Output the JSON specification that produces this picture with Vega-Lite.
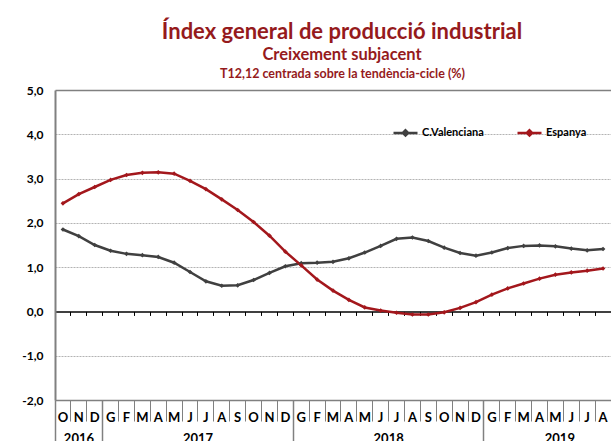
{
  "$schema": "https://vega.github.io/schema/vega-lite/v6.json",
  "width": 556,
  "height": 310,
  "autosize": {"type": "none"},
  "padding": {"left": 55, "top": 90, "right": 0, "bottom": 41},
  "background": "white",
  "title": {
    "text": "Índex general de producció industrial",
    "subtitle": "Creixement subjacent",
    "anchor": "middle", "frame": "group", "dx": 9, "offset": 3,
    "font": "Lato", "fontSize": 22, "fontWeight": "bold", "color": "#951a1c",
    "subtitleFont": "Lato", "subtitleFontSize": 16.5, "subtitleFontWeight": "bold", "subtitleColor": "#951a1c", "subtitlePadding": 3
  },
  "config": {"view": {"stroke": null}, "font": "Lato"},
  "data": {"values": [
    {"mes": "2016-10", "serie": "C.Valenciana", "valor": 1.85}, {"mes": "2016-11", "serie": "C.Valenciana", "valor": 1.70},
    {"mes": "2016-12", "serie": "C.Valenciana", "valor": 1.50}, {"mes": "2017-01", "serie": "C.Valenciana", "valor": 1.37},
    {"mes": "2017-02", "serie": "C.Valenciana", "valor": 1.30}, {"mes": "2017-03", "serie": "C.Valenciana", "valor": 1.27},
    {"mes": "2017-04", "serie": "C.Valenciana", "valor": 1.23}, {"mes": "2017-05", "serie": "C.Valenciana", "valor": 1.10},
    {"mes": "2017-06", "serie": "C.Valenciana", "valor": 0.89}, {"mes": "2017-07", "serie": "C.Valenciana", "valor": 0.68},
    {"mes": "2017-08", "serie": "C.Valenciana", "valor": 0.58}, {"mes": "2017-09", "serie": "C.Valenciana", "valor": 0.59},
    {"mes": "2017-10", "serie": "C.Valenciana", "valor": 0.71}, {"mes": "2017-11", "serie": "C.Valenciana", "valor": 0.87},
    {"mes": "2017-12", "serie": "C.Valenciana", "valor": 1.02}, {"mes": "2018-01", "serie": "C.Valenciana", "valor": 1.09},
    {"mes": "2018-02", "serie": "C.Valenciana", "valor": 1.10}, {"mes": "2018-03", "serie": "C.Valenciana", "valor": 1.12},
    {"mes": "2018-04", "serie": "C.Valenciana", "valor": 1.20}, {"mes": "2018-05", "serie": "C.Valenciana", "valor": 1.33},
    {"mes": "2018-06", "serie": "C.Valenciana", "valor": 1.48}, {"mes": "2018-07", "serie": "C.Valenciana", "valor": 1.64},
    {"mes": "2018-08", "serie": "C.Valenciana", "valor": 1.67}, {"mes": "2018-09", "serie": "C.Valenciana", "valor": 1.59},
    {"mes": "2018-10", "serie": "C.Valenciana", "valor": 1.44}, {"mes": "2018-11", "serie": "C.Valenciana", "valor": 1.32},
    {"mes": "2018-12", "serie": "C.Valenciana", "valor": 1.26}, {"mes": "2019-01", "serie": "C.Valenciana", "valor": 1.33},
    {"mes": "2019-02", "serie": "C.Valenciana", "valor": 1.43}, {"mes": "2019-03", "serie": "C.Valenciana", "valor": 1.48},
    {"mes": "2019-04", "serie": "C.Valenciana", "valor": 1.49}, {"mes": "2019-05", "serie": "C.Valenciana", "valor": 1.47},
    {"mes": "2019-06", "serie": "C.Valenciana", "valor": 1.42}, {"mes": "2019-07", "serie": "C.Valenciana", "valor": 1.38},
    {"mes": "2019-08", "serie": "C.Valenciana", "valor": 1.41},
    {"mes": "2016-10", "serie": "Espanya", "valor": 2.44}, {"mes": "2016-11", "serie": "Espanya", "valor": 2.65},
    {"mes": "2016-12", "serie": "Espanya", "valor": 2.81}, {"mes": "2017-01", "serie": "Espanya", "valor": 2.97},
    {"mes": "2017-02", "serie": "Espanya", "valor": 3.08}, {"mes": "2017-03", "serie": "Espanya", "valor": 3.13},
    {"mes": "2017-04", "serie": "Espanya", "valor": 3.14}, {"mes": "2017-05", "serie": "Espanya", "valor": 3.11},
    {"mes": "2017-06", "serie": "Espanya", "valor": 2.95}, {"mes": "2017-07", "serie": "Espanya", "valor": 2.76},
    {"mes": "2017-08", "serie": "Espanya", "valor": 2.53}, {"mes": "2017-09", "serie": "Espanya", "valor": 2.29},
    {"mes": "2017-10", "serie": "Espanya", "valor": 2.02}, {"mes": "2017-11", "serie": "Espanya", "valor": 1.71},
    {"mes": "2017-12", "serie": "Espanya", "valor": 1.35}, {"mes": "2018-01", "serie": "Espanya", "valor": 1.04},
    {"mes": "2018-02", "serie": "Espanya", "valor": 0.72}, {"mes": "2018-03", "serie": "Espanya", "valor": 0.47},
    {"mes": "2018-04", "serie": "Espanya", "valor": 0.26}, {"mes": "2018-05", "serie": "Espanya", "valor": 0.09},
    {"mes": "2018-06", "serie": "Espanya", "valor": 0.02}, {"mes": "2018-07", "serie": "Espanya", "valor": -0.03},
    {"mes": "2018-08", "serie": "Espanya", "valor": -0.07}, {"mes": "2018-09", "serie": "Espanya", "valor": -0.07},
    {"mes": "2018-10", "serie": "Espanya", "valor": -0.02}, {"mes": "2018-11", "serie": "Espanya", "valor": 0.08},
    {"mes": "2018-12", "serie": "Espanya", "valor": 0.21}, {"mes": "2019-01", "serie": "Espanya", "valor": 0.38},
    {"mes": "2019-02", "serie": "Espanya", "valor": 0.52}, {"mes": "2019-03", "serie": "Espanya", "valor": 0.63},
    {"mes": "2019-04", "serie": "Espanya", "valor": 0.74}, {"mes": "2019-05", "serie": "Espanya", "valor": 0.83},
    {"mes": "2019-06", "serie": "Espanya", "valor": 0.88}, {"mes": "2019-07", "serie": "Espanya", "valor": 0.92},
    {"mes": "2019-08", "serie": "Espanya", "valor": 0.97}
  ]},
  "encoding": {
    "y": {
      "field": "valor", "type": "quantitative",
      "scale": {"domain": [-2, 5], "nice": false, "zero": false},
      "axis": {
        "values": [-2, -1, 0, 1, 2, 3, 4, 5],
        "title": "T12,12 centrada sobre la tendència-cicle (%)",
        "titleAngle": 0, "titleX": 287, "titleY": -13, "titleAlign": "center", "titleBaseline": "alphabetic",
        "titleFont": "Lato", "titleFontSize": 12.5, "titleFontWeight": "bold", "titleColor": "#951a1c",
        "domainColor": "#808080", "domainWidth": 2, "ticks": false,
        "labelPadding": 12, "labelFont": "Lato", "labelFontSize": 12, "labelFontWeight": "bold", "labelColor": "#000000",
        "labelExpr": "replace(replace(format(datum.value, '.1f'), '.', ','), '\u2212', '-')",
        "grid": true,
        "gridColor": {"condition": {"test": "datum.value == 5", "value": "#808080"}, "value": "#b3b3b3"},
        "gridDash": {"condition": {"test": "datum.value == 5", "value": []}, "value": [2, 1]},
        "gridWidth": {"condition": {"test": "datum.value == 5", "value": 1.5}, "value": 1},
        "gridOpacity": {"condition": {"test": "datum.value == 0 || datum.value == -2", "value": 0}, "value": 1}
      }
    }
  },
  "layer": [
    {
      "mark": {"type": "line", "strokeWidth": 2.5},
      "encoding": {
        "x": {
          "field": "mes", "type": "ordinal",
          "scale": {"type": "band", "paddingInner": 0, "paddingOuter": 0},
          "axis": {
            "title": null, "orient": "bottom", "bandPosition": 0,
            "domainColor": "#808080", "domainWidth": 1.5,
            "tickColor": "#808080", "tickWidth": 1, "tickSize": 21,
            "labelExpr": "['G','F','M','A','M','J','J','A','S','O','N','D'][toNumber(substring(datum.value, 5, 7)) - 1]",
            "labelFont": "Lato", "labelFontSize": 13, "labelFontWeight": "bold", "labelColor": "#000000",
            "labelBaseline": "middle", "labelPadding": -3.5, "labelOverlap": false, "labelAngle": 0, "grid": false
          }
        },
        "color": {
          "field": "serie", "type": "nominal",
          "scale": {"domain": ["C.Valenciana", "Espanya"], "range": ["#404040", "#a3171c"]},
          "legend": {
            "orient": "none", "legendX": 337, "legendY": 29, "direction": "horizontal", "title": null,
            "symbolType": "M-1,0L1,0M-0.22,0L0,-0.22L0.22,0L0,0.22Z", "symbolSize": 576, "symbolStrokeWidth": 2.5,
            "labelFont": "Lato", "labelFontSize": 11, "labelFontWeight": "bold", "labelColor": "#000000",
            "labelOffset": 3, "columnPadding": 28,
            "encode": {"symbols": {"update": {"fill": {"scale": "color", "field": "value"}, "stroke": {"scale": "color", "field": "value"}}}}
          }
        }
      }
    },
    {
      "mark": {"type": "point", "shape": "diamond", "filled": true, "size": 22, "opacity": 1},
      "encoding": {
        "x": {
          "field": "mes", "type": "ordinal",
          "scale": {"type": "band", "paddingInner": 0, "paddingOuter": 0},
          "axis": {
            "title": null, "orient": "bottom", "values": ["2016-10", "2017-01", "2018-01", "2019-01"],
            "bandPosition": 0, "domain": false,
            "tickColor": "#808080", "tickWidth": 1.5, "tickSize": 41,
            "labelExpr": "substring(datum.value, 0, 4)",
            "labelOffset": {"condition": [{"test": "datum.value == '2016-10'", "value": 16}, {"test": "datum.value == '2019-01'", "value": 68}], "value": 87.4},
            "labelFont": "Lato", "labelFontSize": 13, "labelFontWeight": "bold", "labelColor": "#000000",
            "labelBaseline": "middle", "labelPadding": -3, "labelOverlap": false, "labelAngle": 0, "grid": false
          }
        },
        "color": {"field": "serie", "type": "nominal"}
      }
    },
    {
      "mark": {"type": "point", "opacity": 0},
      "encoding": {
        "x": {
          "field": "mes", "type": "ordinal",
          "scale": {"type": "band", "paddingInner": 0, "paddingOuter": 0},
          "axis": {
            "title": null, "orient": "bottom", "offset": -88.571, "bandPosition": 0,
            "domainColor": "#000000", "domainWidth": 1.5,
            "tickColor": "#000000", "tickWidth": 1, "tickSize": 4,
            "labels": false, "grid": false
          }
        }
      }
    }
  ],
  "resolve": {"axis": {"x": "independent"}}
}
